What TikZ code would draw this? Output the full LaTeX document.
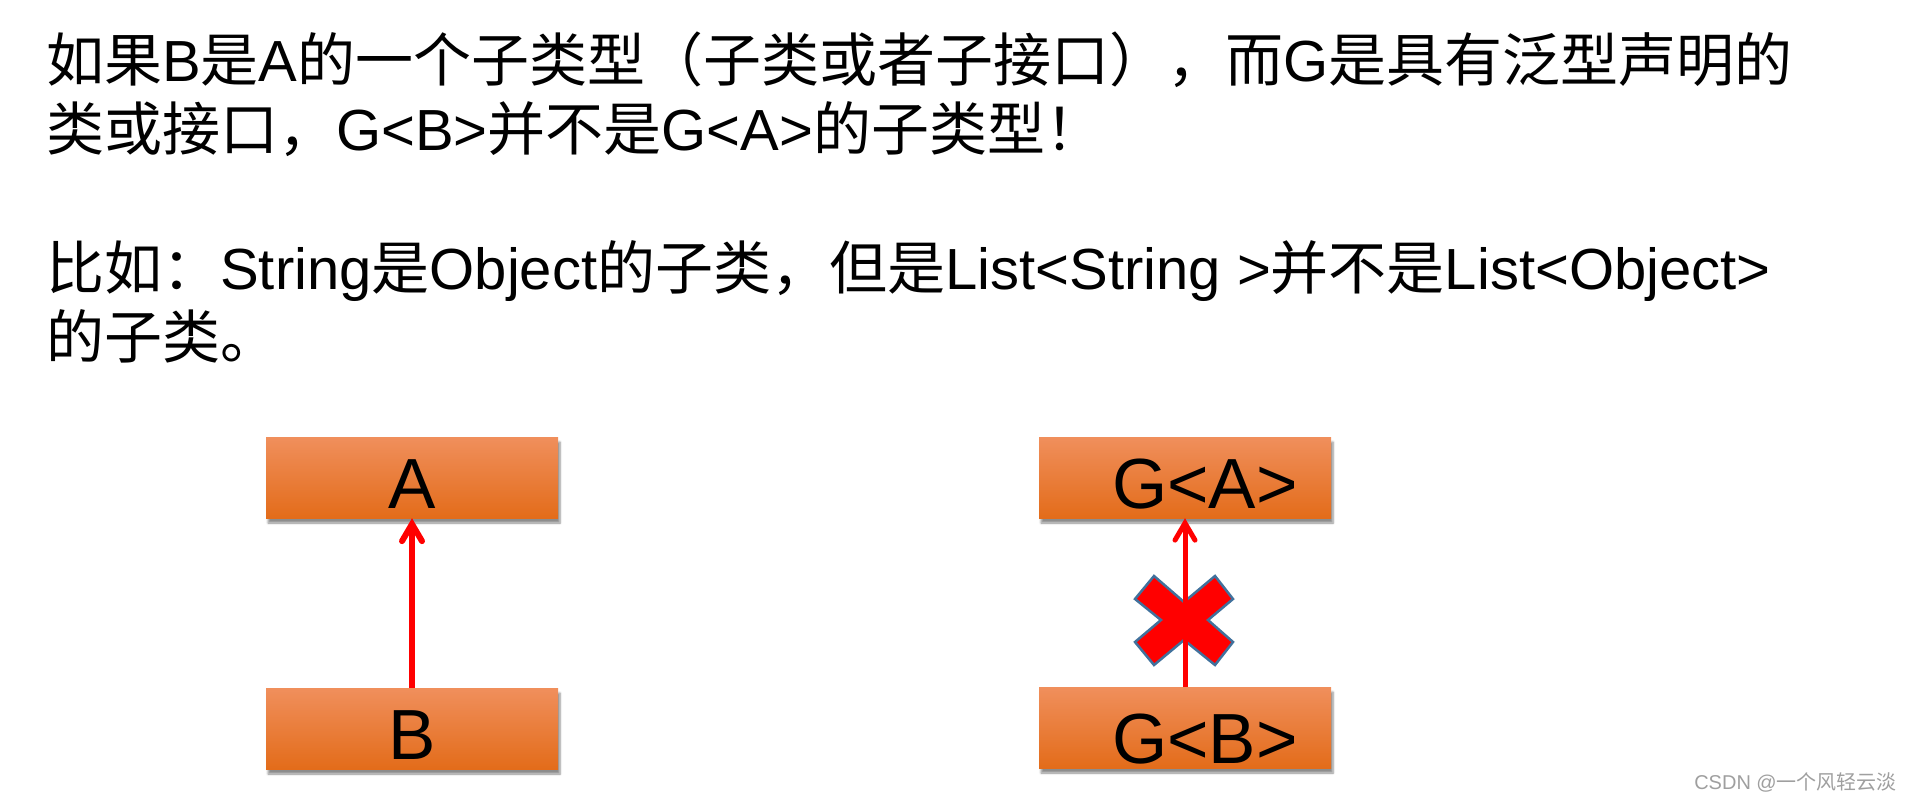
\documentclass[tikz,border=0pt]{standalone}
\usepackage{fontspec}
\setmainfont{Liberation Sans}
\newfontfamily\cjk{Noto Sans CJK SC}
\usetikzlibrary{arrows.meta, shadows.blur}
\newcommand{\zh}[1]{{\cjk #1}}

\definecolor{boxtop}{RGB}{240,143,92}
\definecolor{boxmid}{RGB}{244,128,46}
\definecolor{boxbot}{RGB}{227,108,26}
\definecolor{crossedge}{RGB}{65,113,156}

\begin{document}
\begin{tikzpicture}[x=1pt, y=-1pt,
    classbox/.style={minimum width=292pt, minimum height=81pt, inner sep=0pt,
        top color=boxtop, middle color=boxmid, bottom color=boxbot,
        blur shadow={shadow xshift=2pt, shadow yshift=-5pt, shadow blur steps=6, shadow opacity=45},
        text height=61pt, text depth=0pt, font=\fontsize{71}{71}\selectfont},
    linetext/.style={anchor=base west, inner sep=0pt, font=\fontsize{58}{69}\selectfont},
    subarrow/.style={draw=red, line width=6pt, -{Straight Barb[length=17pt, width=20pt, line cap=round]}}]
    \useasboundingbox (0,0) rectangle (1911,802);

    % Text
    \node[linetext] (l1) at (46,82) {\zh{如果}B\zh{是}A\zh{的一个子类型（子类或者子接口），而}G\zh{是具有泛型声明的}};
    \node[linetext] (l2) at (46,151) {\zh{类或接口，}G<B>\zh{并不是}G<A>\zh{的子类型！}};
    \node[linetext] (l3) at (46,290) {\zh{比如：}String\zh{是}Object\zh{的子类，但是}List<String >\zh{并不是}List<Object>};
    \node[linetext] (l4) at (46,358) {\zh{的子类。}};

    % B is a subtype of A
    \node[classbox] (A) at (412,477.5) {A};
    \node[classbox] (B) at (412,728.5) {B};
    \draw[subarrow] (B.north) -- (A.south);

    % G<B> is not a subtype of G<A>
    \node[classbox] (GA) at (1185,477.5) {\hspace*{40pt}G<A>};
    \node[classbox, text height=71pt] (GB) at (1185,727.5) {\hspace*{40pt}G<B>};
    \coordinate (cross) at (1184,620);
    \filldraw[fill=red, draw=crossedge, line width=2.5pt, shift={(cross)}]
        (-49,-21) -- (-30,-44) -- (0,-18) -- (31,-44) -- (49,-21) -- (24,0)
        -- (49,22) -- (31,45) -- (0,20) -- (-30,45) -- (-49,22) -- (-23,0) -- cycle;
    \draw[subarrow, line width=5pt] (GB.north) -- (GA.south);

    % Watermark
    \node[anchor=base east, inner sep=0pt, text=gray!75, font=\fontsize{20}{20}\selectfont] (mark) at (1897,789) {CSDN @\zh{一个风轻云淡}};
\end{tikzpicture}
\end{document}
